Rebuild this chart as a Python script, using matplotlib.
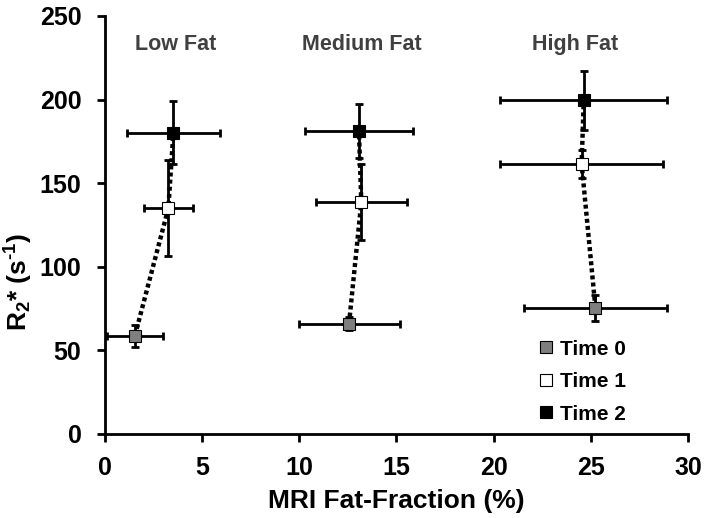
import matplotlib
matplotlib.use("Agg")
import matplotlib.pyplot as plt
from matplotlib.lines import Line2D

plt.rcParams['font.family'] = ['Liberation Sans', 'DejaVu Sans']
plt.rcParams['font.weight'] = 'bold'
plt.rcParams['mathtext.default'] = 'regular'

groups = ["Low Fat", "Medium Fat", "High Fat"]
times = ["Time 0", "Time 1", "Time 2"]
colors = ["#7f7f7f", "#ffffff", "#000000"]

# fat fraction (%) per group, per time
ff = [[1.54, 3.26, 3.52],
      [12.56, 13.19, 13.07],
      [25.24, 24.53, 24.64]]
ff_err = [[1.46, 1.25, 2.38],
          [2.6, 2.33, 2.8],
          [3.69, 4.18, 4.29]]
r2 = [[58.8, 135.0, 180.2],
      [66.0, 138.6, 181.2],
      [75.5, 161.5, 199.6]]
r2_err = [[6.5, 28.7, 19.0],
          [3.7, 22.6, 16.3],
          [7.8, 8.2, 17.6]]

label_x = [3.65, 13.2, 24.2]
label_y = 233

fig = plt.figure(figsize=(7.07, 5.18), dpi=100)
ax = fig.add_axes([0.1485, 0.1622, 0.8245, 0.807])

for g in range(3):
    ax.plot(ff[g], r2[g], linestyle=(0, (0.9, 0.7)), color='black', lw=3.2, zorder=3)
    for t in range(3):
        ax.errorbar(ff[g][t], r2[g][t], xerr=ff_err[g][t], yerr=r2_err[g][t],
                    fmt='none', ecolor='black', elinewidth=2, capsize=3, capthick=2, zorder=2)
        ax.plot(ff[g][t], r2[g][t], marker='s', ms=9, mfc=colors[t], mec='black',
                mew=0.8, linestyle='none', zorder=4)
    ax.text(label_x[g], label_y, groups[g], ha='center', va='center', fontsize=15.5,
            fontweight='bold', color='#404040')

ax.set_xlim(0, 30)
ax.set_ylim(0, 250)
ax.set_xticks([0, 5, 10, 15, 20, 25, 30])
ax.set_yticks([0, 50, 100, 150, 200, 250])
for s in ['top', 'right']:
    ax.spines[s].set_visible(False)
for s in ['left', 'bottom']:
    ax.spines[s].set_linewidth(2)
ax.tick_params(axis='both', which='major', labelsize=18, width=2, length=6,
               direction='out')
ax.tick_params(axis='x', pad=10)
ax.tick_params(axis='y', pad=11)
ax.set_xlabel("MRI Fat-Fraction (%)", fontsize=19, fontweight='bold', labelpad=6)
ax.set_ylabel("R$_2$* (s$^{\u2010 1}$)".replace(" 1", "1"), fontsize=19, fontweight='bold')
ax.yaxis.set_label_coords(-0.12, 0.364)

handles = [Line2D([], [], marker='s', ms=8.5, mfc=c, mec='black', mew=0.8, linestyle='none')
           for c in colors]
ax.legend(handles, times, loc='lower right', bbox_to_anchor=(0.926, -0.020), frameon=False,
          handlelength=0.5, handletextpad=0.4, labelspacing=0.65,
          prop={'size': 15, 'weight': 'bold'})

fig.savefig("out.png", dpi=100)
